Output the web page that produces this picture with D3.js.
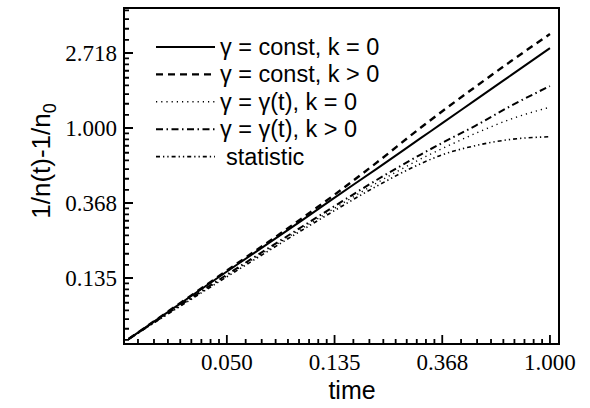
<!DOCTYPE html>
<html>
<head>
<meta charset="utf-8">
<script src="https://cdn.jsdelivr.net/npm/d3@7"></script>
<style>
  html, body { margin: 0; padding: 0; background: #fff; }
  svg { display: block; }
</style>
</head>
<body>
<svg id="chart" width="590" height="408"></svg>
<script>
// Sample times (log axis, base e)
const times = [0.02, 0.05, 0.1, 0.135, 0.2, 0.3, 0.368, 0.5, 0.7, 1.0];

// 1/n(t) - 1/n0 for each model
const constK0   = [0.060, 0.148, 0.292, 0.394, 0.58, 0.87, 1.067, 1.45, 2.03, 2.9];
const constKpos = [0.060, 0.150, 0.300, 0.410, 0.63, 1.00, 1.25, 1.73, 2.45, 3.5];
const gammaTK0  = [0.060, 0.140, 0.262, 0.342, 0.48, 0.66, 0.76, 0.93, 1.13, 1.32];
const gammaTKpos= [0.060, 0.142, 0.268, 0.352, 0.50, 0.70, 0.82, 1.03, 1.35, 1.75];
const statistic = [0.060, 0.138, 0.256, 0.332, 0.46, 0.62, 0.70, 0.79, 0.86, 0.89];

const legendLabels = ["γ = const, k = 0", "γ = const, k > 0", "γ = γ(t), k = 0", "γ = γ(t), k > 0", "statistic"];

// Tick marks at powers of e
const xTickExp = [-3, -2, -1, 0];
const xTickLabels = ["0.050", "0.135", "0.368", "1.000"];
const yTickExp = [-2, -1, 0, 1];
const yTickLabels = ["0.135", "0.368", "1.000", "2.718"];

const series = [
  { values: constK0,    dash: null,                 width: 2.0 },
  { values: constKpos,  dash: "7,5",                width: 2.4 },
  { values: gammaTK0,   dash: "1.2,4",              width: 1.4 },
  { values: gammaTKpos, dash: "7,3.5,1.5,3.5",      width: 2.0 },
  { values: statistic,  dash: "4,3,1.3,3,1.3,3",    width: 1.6 }
];

const svg = d3.select("#chart");
const plot = { left: 124, right: 559, top: 8, bottom: 344 };

const x = d3.scaleLog().base(Math.E)
  .domain([Math.exp(-3.955), Math.exp(0.084)])
  .range([plot.left, plot.right]);
const y = d3.scaleLog().base(Math.E)
  .domain([Math.exp(-2.88), Math.exp(1.6)])
  .range([plot.bottom, plot.top]);

// Minor ticks: eight linear subdivisions inside each e-decade
function minorTicks(scale) {
  const [d0, d1] = scale.domain();
  const lo = Math.floor(Math.log(d0)), hi = Math.ceil(Math.log(d1));
  const out = [];
  for (let k = lo; k < hi; k++) {
    const a = Math.exp(k), b = Math.exp(k + 1), step = (b - a) / 9;
    for (let i = 1; i <= 8; i++) {
      const v = a + i * step;
      if (v >= d0 && v <= d1) out.push(v);
    }
  }
  return out;
}

const serif = "'Liberation Serif', 'Times New Roman', serif";
const sans = "'Liberation Sans', Arial, sans-serif";

const xMajorVals = xTickExp.map(Math.exp);
const yMajorVals = yTickExp.map(Math.exp);

// Inward tick marks on the bottom and left axes, as one path
let tickPath = "";
minorTicks(x).forEach(v => { tickPath += `M${x(v)},${plot.bottom}V${plot.bottom - 5}`; });
xMajorVals.forEach(v => { tickPath += `M${x(v)},${plot.bottom}V${plot.bottom - 9}`; });
minorTicks(y).forEach(v => { tickPath += `M${plot.left},${y(v)}H${plot.left + 5}`; });
yMajorVals.forEach(v => { tickPath += `M${plot.left},${y(v)}H${plot.left + 9}`; });
svg.append("path")
  .attr("d", tickPath)
  .attr("fill", "none")
  .attr("stroke", "#000")
  .attr("stroke-width", 1.8);

// Tick labels
svg.append("g").selectAll("text").data(xMajorVals).join("text")
  .attr("x", d => x(d)).attr("y", 370)
  .attr("text-anchor", "middle")
  .attr("font-family", serif).attr("font-size", 23)
  .text((d, i) => xTickLabels[i]);
svg.append("g").selectAll("text").data(yMajorVals).join("text")
  .attr("x", plot.left - 7).attr("y", d => y(d) + 8)
  .attr("text-anchor", "end")
  .attr("font-family", serif).attr("font-size", 23)
  .text((d, i) => yTickLabels[i]);

// Frame
svg.append("rect")
  .attr("x", plot.left).attr("y", plot.top)
  .attr("width", plot.right - plot.left).attr("height", plot.bottom - plot.top)
  .attr("fill", "none").attr("stroke", "#000").attr("stroke-width", 2);

// Curves
const line = d3.line()
  .x((d, i) => x(times[i]))
  .y(d => y(d))
  .curve(d3.curveMonotoneX);

svg.append("g").selectAll("path")
  .data(series)
  .join("path")
  .attr("d", s => line(s.values))
  .attr("fill", "none")
  .attr("stroke", "#000")
  .attr("stroke-width", s => s.width)
  .attr("stroke-dasharray", s => s.dash);

// Legend
const legend = svg.append("g");
const rowY = i => 47 + i * 27.4;
legend.selectAll("line")
  .data(series)
  .join("line")
  .attr("x1", 156).attr("x2", 215)
  .attr("y1", (s, i) => rowY(i)).attr("y2", (s, i) => rowY(i))
  .attr("stroke", "#000")
  .attr("stroke-width", s => s.width)
  .attr("stroke-dasharray", s => s.dash);
legend.selectAll("text")
  .data(legendLabels)
  .join("text")
  .attr("x", (d, i) => i === 4 ? 226 : 220)
  .attr("y", (d, i) => rowY(i) + 8)
  .attr("font-family", sans)
  .attr("font-size", 23.5)
  .attr("fill", "#000")
  .text(d => d);

// Axis titles
svg.append("text")
  .attr("x", 352).attr("y", 399)
  .attr("text-anchor", "middle")
  .attr("font-family", sans).attr("font-size", 25)
  .text("time");

const yTitle = svg.append("text")
  .attr("transform", "translate(50,161) rotate(-90)")
  .attr("text-anchor", "middle")
  .attr("font-family", sans).attr("font-size", 26);
yTitle.append("tspan").text("1/n(t)-1/n");
yTitle.append("tspan").attr("font-size", 18).attr("dy", 6).text("0");
</script>
</body>
</html>
